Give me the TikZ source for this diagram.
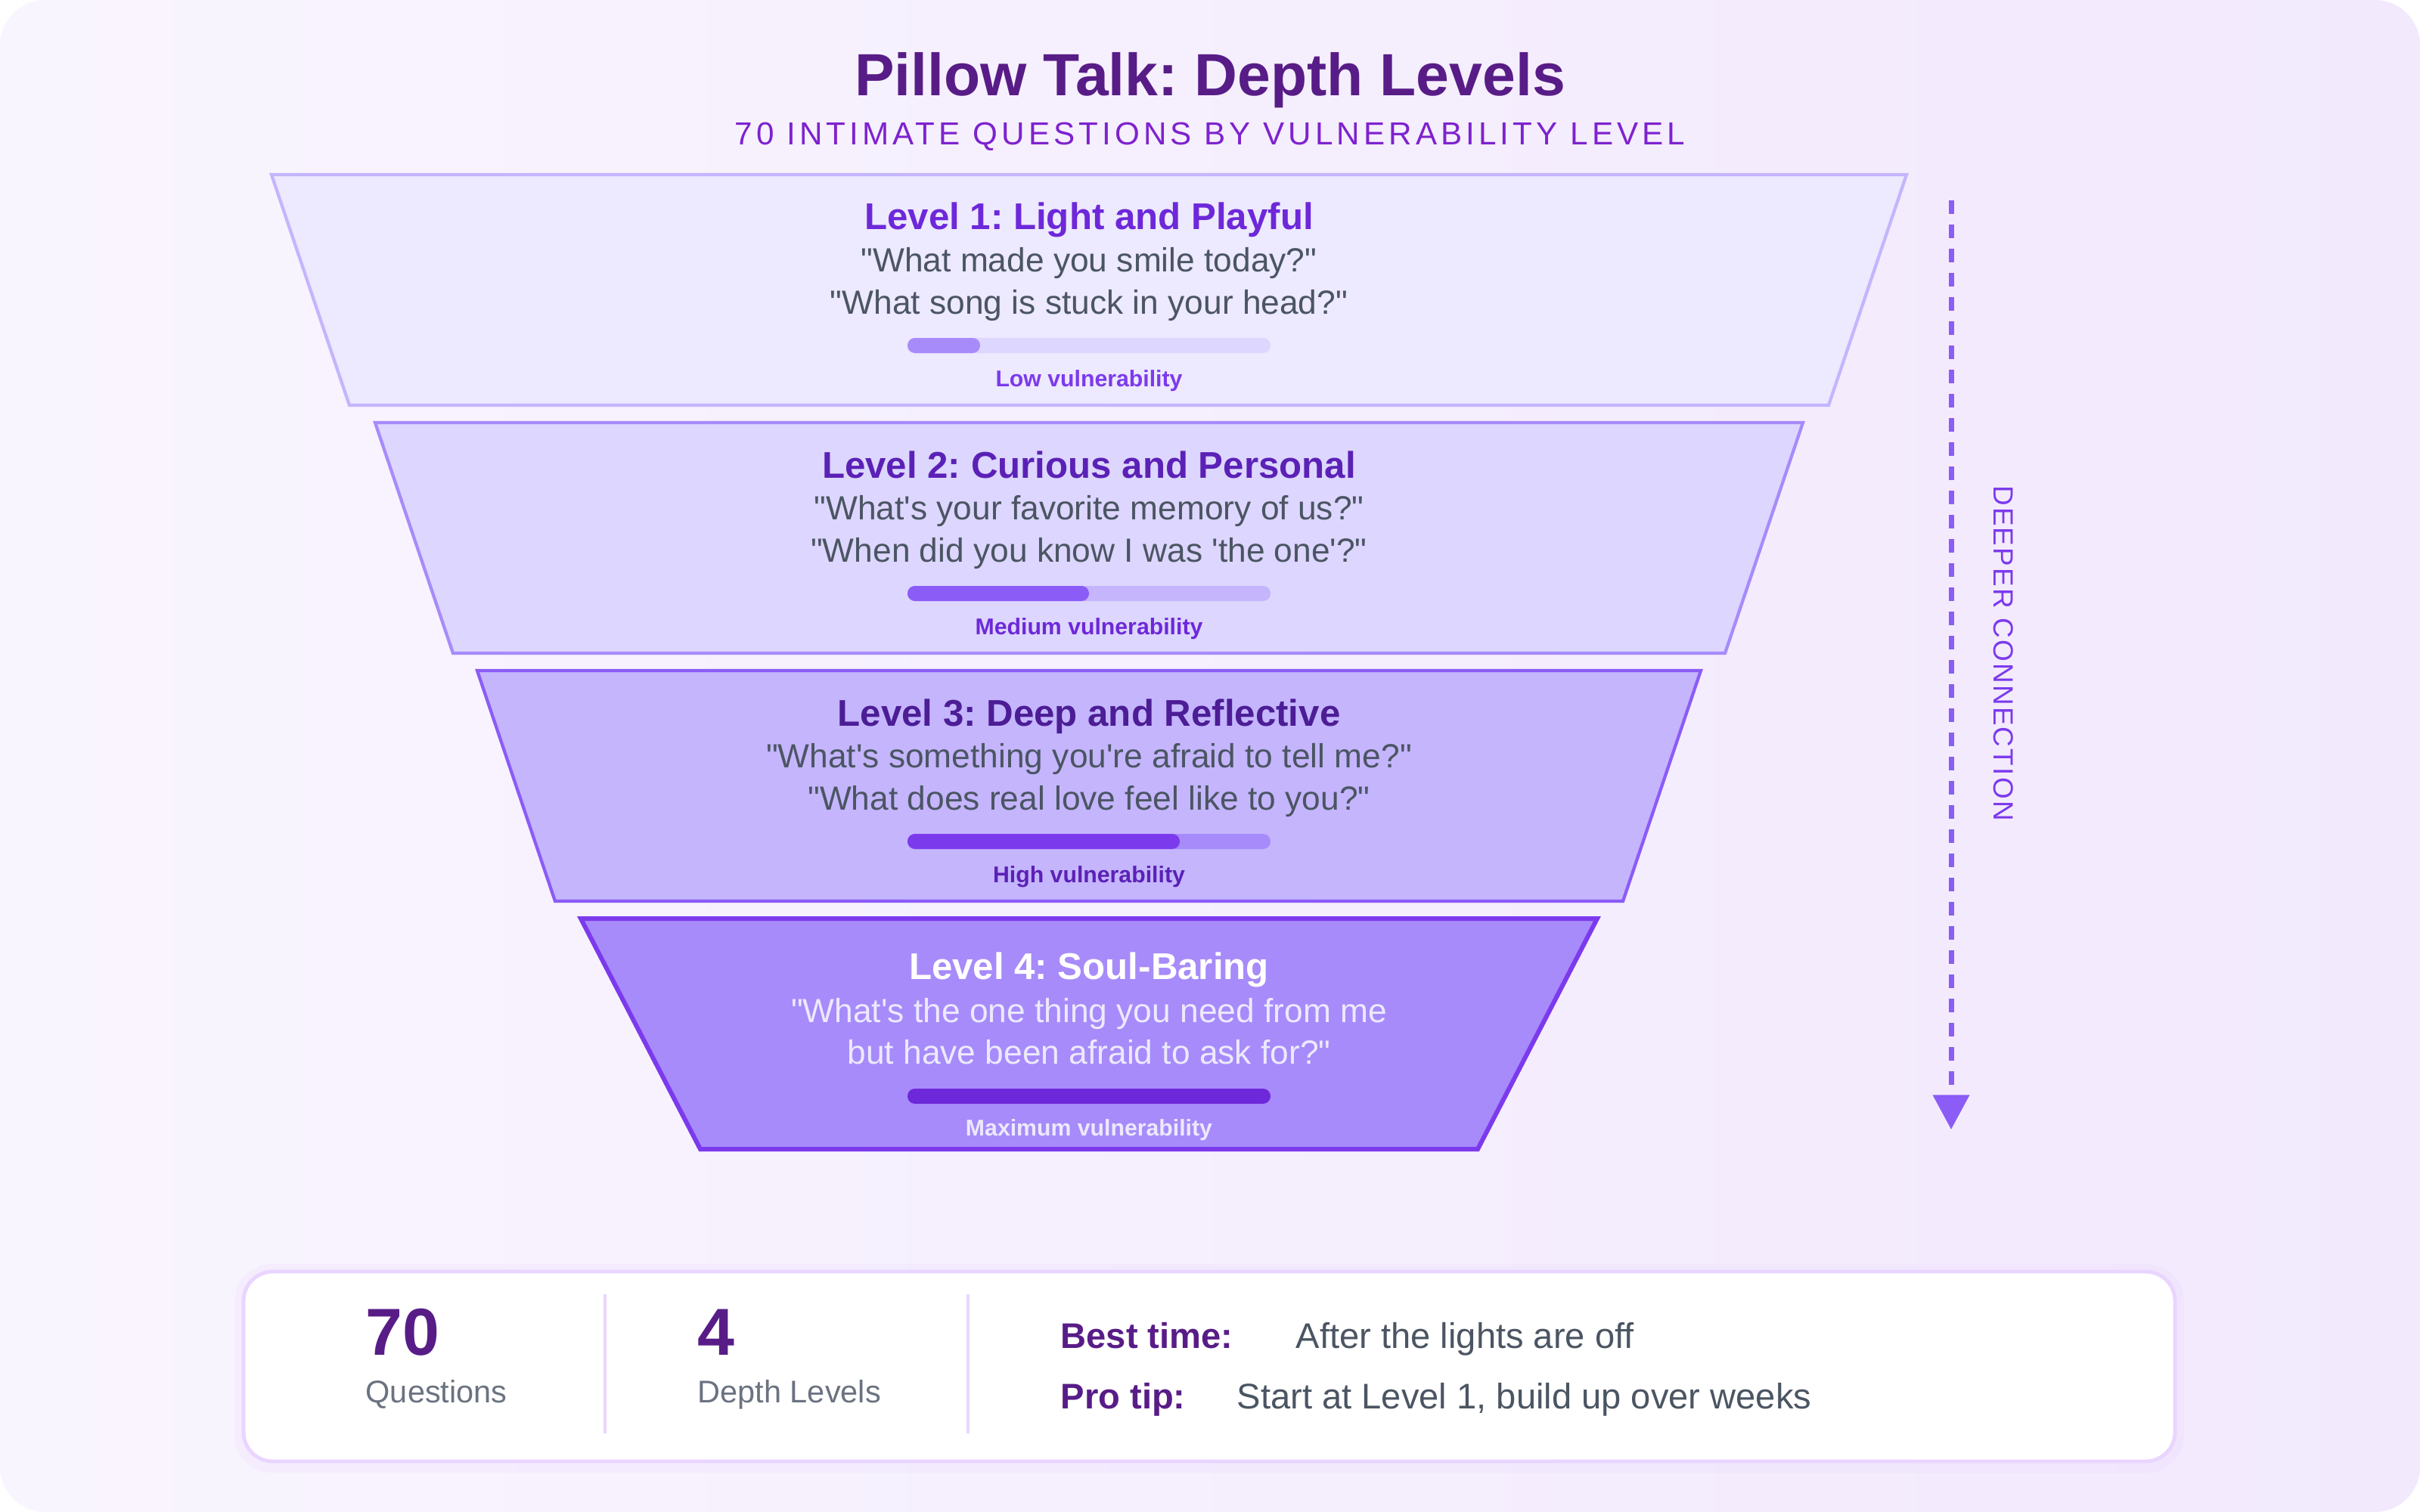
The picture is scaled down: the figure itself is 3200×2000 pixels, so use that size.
\documentclass[tikz,border=0pt]{standalone}
\usepackage{fontspec}
\setmainfont{Liberation Sans}[Ligatures=TeXOff]
\newfontfamily\spacedfont[LetterSpace=12,Ligatures=TeXOff]{Liberation Sans}
\newfontfamily\sidefont[LetterSpace=6]{Liberation Sans}
\usetikzlibrary{arrows.meta,positioning}
\frenchspacing

\definecolor{bgA}{HTML}{F9F5FE}
\definecolor{bgB}{HTML}{F2E9FD}
\definecolor{headc}{HTML}{581C87}
\definecolor{subc}{HTML}{7E22CE}
\definecolor{gtext}{HTML}{4B5563}
\definecolor{gstat}{HTML}{6B7280}
\definecolor{lvAfill}{HTML}{EDE9FE}
\definecolor{lvAline}{HTML}{C4B5FD}
\definecolor{lvBfill}{HTML}{DDD6FE}
\definecolor{lvBline}{HTML}{A78BFA}
\definecolor{lvCfill}{HTML}{C4B5FD}
\definecolor{lvCline}{HTML}{8B5CF6}
\definecolor{lvDfill}{HTML}{A78BFA}
\definecolor{lvDline}{HTML}{7C3AED}
\definecolor{v700}{HTML}{6D28D9}
\definecolor{v800}{HTML}{5B21B6}
\definecolor{v900}{HTML}{4C1D95}
\definecolor{panelline}{HTML}{E9D5FF}
\definecolor{arrowc}{HTML}{8B5CF6}

\begin{document}
\begin{tikzpicture}[x=0.01cm,y=-0.01cm,every node/.style={inner sep=0pt,anchor=base},
  lvtitle/.style={font=\fontsize{14}{17}\selectfont\bfseries},
  quest/.style={font=\fontsize{12.6}{15}\selectfont,text=gtext},
  vlab/.style={font=\fontsize{8.6}{10}\selectfont\bfseries},
  bigstat/.style={font=\fontsize{25}{30}\selectfont\bfseries,text=headc,anchor=base west},
  smallstat/.style={font=\fontsize{11.8}{14}\selectfont,text=gstat,anchor=base west},
  tipkey/.style={font=\fontsize{13.4}{16}\selectfont\bfseries,text=headc,anchor=base west},
  tipval/.style={font=\fontsize{13.4}{16}\selectfont,text=gtext,anchor=base west}]
\useasboundingbox (0,0) rectangle (3200,2000);
\fill[white] (0,0) rectangle (3200,2000);
\shade[rounded corners=17pt,left color=bgA,right color=bgB] (0,0) rectangle (3200,2000);

% heading
\node[font=\fontsize{22.4}{28}\selectfont\bfseries,text=headc] (head) at (1600,127) {Pillow Talk: Depth Levels};
\node[font=\fontsize{12}{14}\spacedfont,text=subc] (subhead) at (1600,192) {70 INTIMATE QUESTIONS BY VULNERABILITY LEVEL};

% level 1
\coordinate (a1) at (359,231);
\coordinate (b1) at (2521,231);
\coordinate (c1) at (2418,536);
\coordinate (d1) at (462,536);
\draw[line width=1.2pt,draw=lvAline,fill=lvAfill] (a1)--(b1)--(c1)--(d1)--cycle;
\node[lvtitle,text=v700] (l1t) at (1440,304) {Level 1: Light and Playful};
\node[quest] (l1q1) at (1440,359) {"What made you smile today?"};
\node[quest] (l1q2) at (1440,415) {"What song is stuck in your head?"};
\fill[lvBfill,rounded corners=2.8pt] (1200,447) rectangle (1680,467);
\fill[lvBline,rounded corners=2.8pt] (1200,447) rectangle (1296,467);
\node[vlab,text=lvDline] (l1v) at (1440,511) {Low vulnerability};

% level 2
\coordinate (a2) at (496,559);
\coordinate (b2) at (2384,559);
\coordinate (c2) at (2281,864);
\coordinate (d2) at (599,864);
\draw[line width=1.2pt,draw=lvBline,fill=lvBfill] (a2)--(b2)--(c2)--(d2)--cycle;
\node[lvtitle,text=v800] (l2t) at (1440,632) {Level 2: Curious and Personal};
\node[quest] (l2q1) at (1440,687) {"What's your favorite memory of us?"};
\node[quest] (l2q2) at (1440,743) {"When did you know I was 'the one'?"};
\fill[lvCfill,rounded corners=2.8pt] (1200,775) rectangle (1680,795);
\fill[lvCline,rounded corners=2.8pt] (1200,775) rectangle (1440,795);
\node[vlab,text=v700] (l2v) at (1440,839) {Medium vulnerability};

% level 3
\coordinate (a3) at (631,887);
\coordinate (b3) at (2249,887);
\coordinate (c3) at (2146,1192);
\coordinate (d3) at (734,1192);
\draw[line width=1.2pt,draw=lvCline,fill=lvCfill] (a3)--(b3)--(c3)--(d3)--cycle;
\node[lvtitle,text=v900] (l3t) at (1440,960) {Level 3: Deep and Reflective};
\node[quest] (l3q1) at (1440,1015) {"What's something you're afraid to tell me?"};
\node[quest] (l3q2) at (1440,1071) {"What does real love feel like to you?"};
\fill[lvDfill,rounded corners=2.8pt] (1200,1103) rectangle (1680,1123);
\fill[lvDline,rounded corners=2.8pt] (1200,1103) rectangle (1560,1123);
\node[vlab,text=v800] (l3v) at (1440,1167) {High vulnerability};

% level 4
\coordinate (a4) at (768,1215);
\coordinate (b4) at (2112,1215);
\coordinate (c4) at (1954,1520);
\coordinate (d4) at (926,1520);
\draw[line width=1.7pt,draw=lvDline,fill=lvDfill] (a4)--(b4)--(c4)--(d4)--cycle;
\node[lvtitle,text=white] (l4t) at (1440,1295) {Level 4: Soul-Baring};
\node[quest,text=lvAfill] (l4q1) at (1440,1352) {"What's the one thing you need from me};
\node[quest,text=lvAfill] (l4q2) at (1440,1407) {but have been afraid to ask for?"};
\fill[v700,rounded corners=2.8pt] (1200,1440) rectangle (1680,1460);
\node[vlab,text=lvAfill] (l4v) at (1440,1502) {Maximum vulnerability};

% depth arrow
\coordinate (arrtop) at (2580,265);
\coordinate (arrbot) at (2580,1494);
\draw[arrowc,line width=2pt,dash pattern=on 5.1pt off 4pt,-{Triangle[width=13.4pt,length=13pt]}] (arrtop) -- (arrbot);
\node[rotate=-90,anchor=center,font=\fontsize{10.5}{12}\sidefont,text=lvDline] (deeper) at (2649,864) {DEEPER CONNECTION};

% summary panel
\fill[panelline,opacity=.2,rounded corners=14pt] (310,1672) rectangle (2888,1948);
\draw[line width=1.4pt,draw=panelline,fill=white,rounded corners=11pt] (322,1682) rectangle (2876,1933);
\draw[panelline,line width=.9pt] (800,1712) -- (800,1896);
\draw[panelline,line width=.9pt] (1280,1712) -- (1280,1896);
\node[bigstat] (n70) at (483,1792) {70};
\node[smallstat] (nq) at (483,1855) {Questions};
\node[bigstat] (n4) at (922,1792) {4};
\node[smallstat] (nd) at (922,1855) {Depth Levels};
\node[tipkey] (kbest) at (1402,1783) {Best time:};
\node[tipval] (vbest) at (1713,1783) {After the lights are off};
\node[tipkey] (kpro) at (1402,1863) {Pro tip:};
\node[tipval] (vpro) at (1635,1863) {Start at Level 1, build up over weeks};
\end{tikzpicture}
\end{document}
